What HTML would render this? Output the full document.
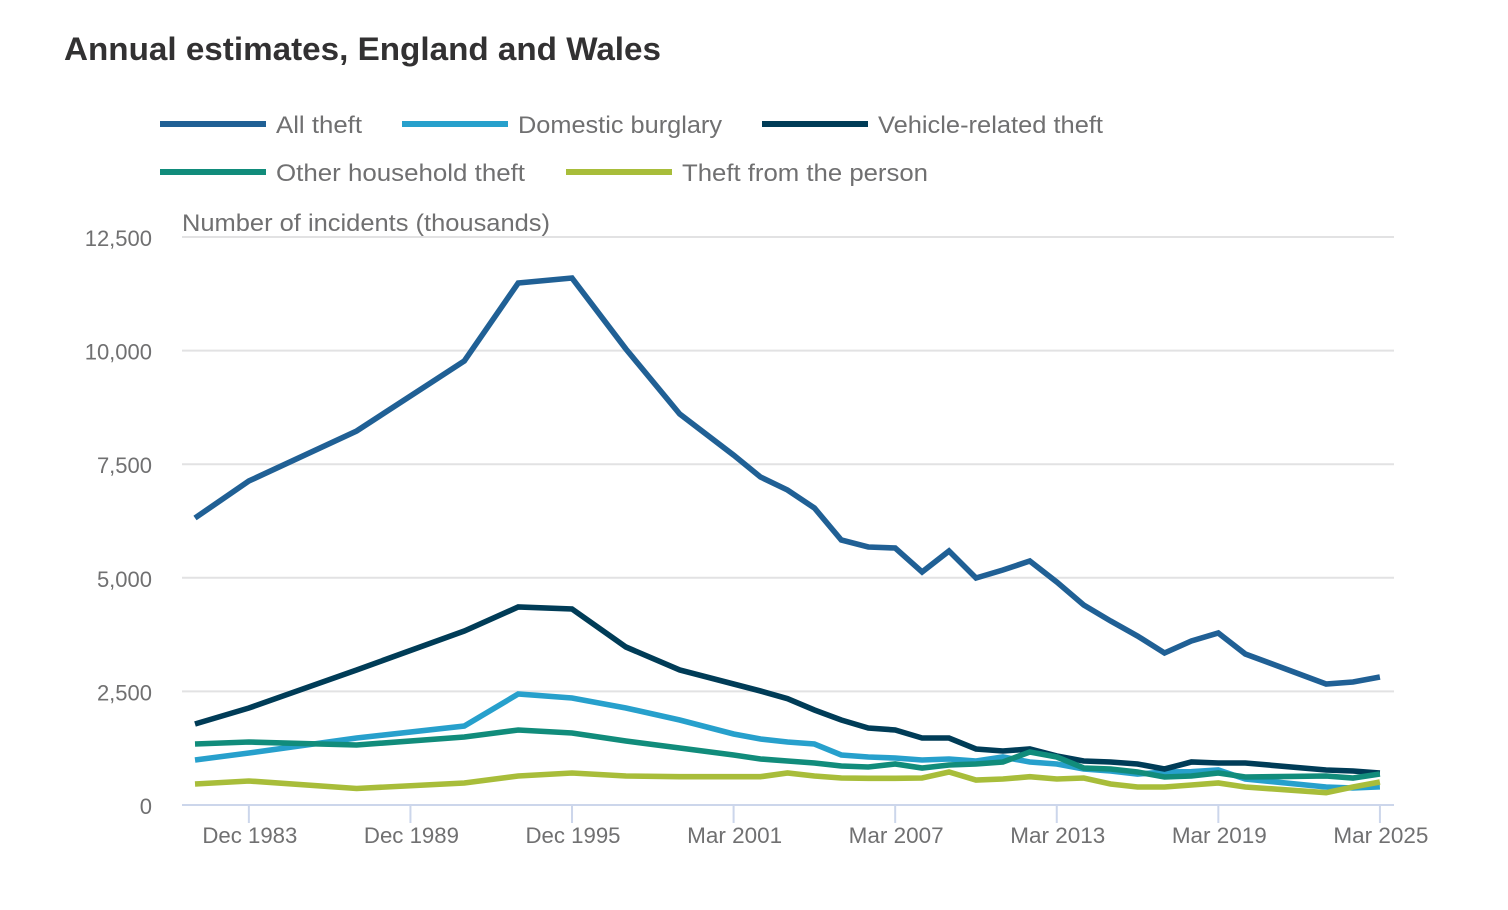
<!DOCTYPE html>
<html lang="en">
<head>
<meta charset="utf-8">
<title>Annual estimates, England and Wales</title>
<style>
html,body{margin:0;padding:0;background:#fff;width:1508px;height:910px;overflow:hidden}
svg{display:block;font-family:"Liberation Sans",Arial,sans-serif}
</style>
</head>
<body>
<svg id="chart" xmlns="http://www.w3.org/2000/svg" width="1508" height="910" viewBox="0 0 1508 910">
  <text x="64" y="60" font-size="32" font-weight="700" fill="#323132" textLength="597" lengthAdjust="spacingAndGlyphs">Annual estimates, England and Wales</text>

  <g font-size="24" fill="#707071">
    <g>
      <rect x="160" y="121" width="106" height="6" fill="#206095"/>
      <text x="276" y="133" textLength="86" lengthAdjust="spacingAndGlyphs">All theft</text>
    </g>
    <g>
      <rect x="402" y="121" width="106" height="6" fill="#27A0CC"/>
      <text x="518" y="133" textLength="204" lengthAdjust="spacingAndGlyphs">Domestic burglary</text>
    </g>
    <g>
      <rect x="762" y="121" width="106" height="6" fill="#003C57"/>
      <text x="878" y="133" textLength="225" lengthAdjust="spacingAndGlyphs">Vehicle-related theft</text>
    </g>
    <g>
      <rect x="160" y="169" width="106" height="6" fill="#118C7B"/>
      <text x="276" y="181" textLength="249" lengthAdjust="spacingAndGlyphs">Other household theft</text>
    </g>
    <g>
      <rect x="566" y="169" width="106" height="6" fill="#A8BD3A"/>
      <text x="682" y="181" textLength="246" lengthAdjust="spacingAndGlyphs">Theft from the person</text>
    </g>
  </g>

  <text x="182" y="231" font-size="24" fill="#707071" textLength="368" lengthAdjust="spacingAndGlyphs">Number of incidents (thousands)</text>
  <g id="grid"></g>
  <g id="yLabels"></g>
  <g id="xAxis"></g>
  <g id="series"></g>
</svg>
<script>
const categories = ["Dec 1981","Dec 1982","Dec 1983","Dec 1984","Dec 1985","Dec 1986","Dec 1987","Dec 1988","Dec 1989","Dec 1990","Dec 1991","Dec 1992","Dec 1993","Dec 1994","Dec 1995","Dec 1996","Dec 1997","Dec 1998","Dec 1999","Dec 2000","Mar 2001","Mar 2002","Mar 2003","Mar 2004","Mar 2005","Mar 2006","Mar 2007","Mar 2008","Mar 2009","Mar 2010","Mar 2011","Mar 2012","Mar 2013","Mar 2014","Mar 2015","Mar 2016","Mar 2017","Mar 2018","Mar 2019","Mar 2020","Mar 2021","Mar 2022","Mar 2023","Mar 2024","Mar 2025"];
const xTickLabels = ["Dec 1983","Dec 1989","Dec 1995","Mar 2001","Mar 2007","Mar 2013","Mar 2019","Mar 2025"];
const yTicks = [0,2500,5000,7500,10000,12500];
const allTheft = [6316,null,7130,null,null,null,8231,null,null,null,9771,null,11488,null,11598,null,10035,null,8605,null,7700,7218,6932,6536,5832,5678,5656,5128,5590,4996,5172,5370,4907,4401,4049,3719,3345,3609,3785,3323,null,null,2663,2707,2817];
const domesticBurglary = [990,null,1144,null,null,null,1474,null,null,null,1738,null,2443,null,2355,null,2135,null,1870,null,1562,1452,1386,1342,1100,1056,1034,990,1012,968,1056,946,902,792,748,680,726,733,770,572,null,null,396,374,400];
const vehicleTheft = [1783,null,2135,null,null,null,2971,null,null,null,3829,null,4357,null,4313,null,3477,null,2971,null,2663,2509,2340,2090,1870,1695,1650,1474,1474,1232,1188,1232,1078,968,946,902,792,946,924,924,null,null,770,748,704];
const otherHousehold = [1342,null,1386,null,null,null,1320,null,null,null,1496,null,1650,null,1584,null,1408,null,1254,null,1100,1012,968,924,858,836,902,814,880,902,946,1166,1056,814,792,726,616,638,704,616,null,null,638,594,682];
const theftFromPerson = [462,null,528,null,null,null,363,null,null,null,484,null,638,null,704,null,638,null,623,null,623,623,704,638,594,587,587,594,726,550,572,623,572,594,462,396,396,440,484,396,null,null,271,396,506];

const NS = "http://www.w3.org/2000/svg";
const seriesDefs = [
  ["all-theft", allTheft, "#206095"],
  ["domestic-burglary", domesticBurglary, "#27A0CC"],
  ["vehicle-related-theft", vehicleTheft, "#003C57"],
  ["other-household-theft", otherHousehold, "#118C7B"],
  ["theft-from-the-person", theftFromPerson, "#A8BD3A"]
];
const plot = {x0:195, step:26.93, y0:805, pxPerUnit:568/12500, left:182, right:1394};
function xScale(i){ return plot.x0 + plot.step*i; }
function yScale(v){ return plot.y0 - v*plot.pxPerUnit; }
function make(tag, attrs, parent){
  const el = document.createElementNS(NS, tag);
  for (const k in attrs) el.setAttribute(k, attrs[k]);
  parent.appendChild(el);
  return el;
}
const grid = document.getElementById("grid");
const yLabels = document.getElementById("yLabels");
const xAxis = document.getElementById("xAxis");
const seriesGroup = document.getElementById("series");

yTicks.forEach(function(t){
  const y = yScale(t);
  if (t !== 0) {
    const g = make("line", {x1:plot.left, x2:plot.right, y1:y, y2:y, stroke:"#e2e2e3", "stroke-width":2}, grid);
    
    
  }
  const lab = make("text", {x:152, y:y+9, "text-anchor":"end", "font-size":22, fill:"#707071"}, yLabels);
  
  
  lab.textContent = t.toLocaleString("en-GB");
});

const axisLine = make("line", {x1:plot.left, x2:plot.right, y1:plot.y0, y2:plot.y0, stroke:"#ccd6eb", "stroke-width":2}, xAxis);


xTickLabels.forEach(function(label){
  const x = xScale(categories.indexOf(label));
  const tick = make("line", {x1:x, x2:x, y1:plot.y0, y2:823, stroke:"#ccd6eb", "stroke-width":2}, xAxis);
  
  
  const txt = make("text", {x:x+1, y:843, "text-anchor":"middle", "font-size":22, fill:"#707071", textLength:95, lengthAdjust:"spacingAndGlyphs"}, xAxis);
  
  
  txt.textContent = label;
});

seriesDefs.forEach(function(s){
  const pts = [];
  s[1].forEach(function(v, i){
    if (v !== null) pts.push(xScale(i).toFixed(1) + "," + yScale(v).toFixed(1));
  });
  const line = make("polyline", {points:pts.join(" "), fill:"none", stroke:s[2], "stroke-width":5.6, "stroke-linejoin":"miter", "stroke-linecap":"butt"}, seriesGroup);
  
  
});
</script>
</body>
</html>
